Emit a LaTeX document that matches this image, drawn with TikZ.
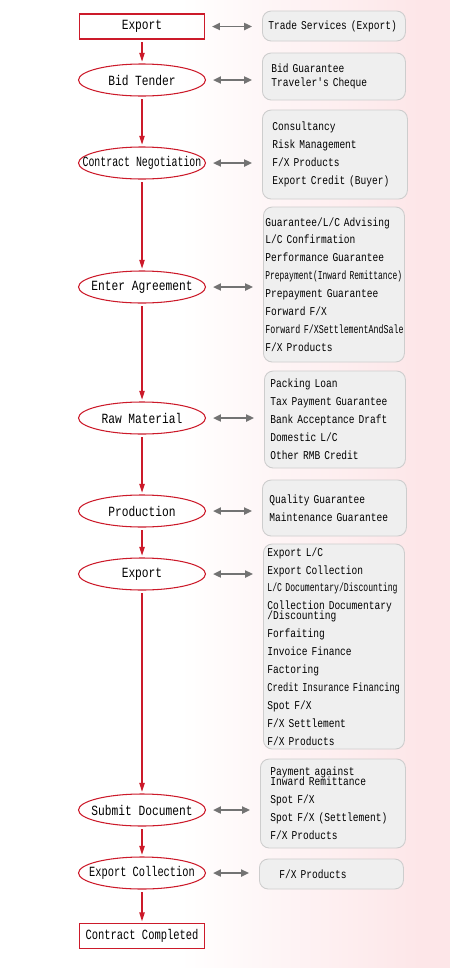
\documentclass[tikz,border=0pt]{standalone}
\usepackage{fontspec}
\usepackage{graphicx}
\usetikzlibrary{arrows.meta,shapes.geometric}
\newfontfamily\stepfont[FakeStretch=0.8]{Liberation Mono}
\definecolor{flowred}{RGB}{204,26,42}
\definecolor{boxgray}{RGB}{239,239,239}
\definecolor{boxedge}{RGB}{205,205,205}
\definecolor{linkgray}{RGB}{115,115,115}
\definecolor{bgpink}{RGB}{253,230,232}
\newcommand{\tight}[2]{\scalebox{#1}[1]{#2}}

\tikzset{
  stage/.style={draw=flowred,line width=0.6pt,ellipse,minimum width=2.54cm,minimum height=0.64cm,inner sep=0pt,font=\fontsize{8}{9}\stepfont,
    execute at begin node={\hbox to 0pt\bgroup\hss},execute at end node={\hss\egroup}},
  endstage/.style={draw=flowred,line width=0.6pt,rectangle,minimum width=2.5cm,minimum height=0.5cm,inner sep=0pt,font=\fontsize{8}{9}\stepfont},
  svc/.style={draw=boxedge,fill=boxgray,line width=0.5pt,rounded corners=5pt,anchor=west,align=left,inner ysep=0pt,font=\fontsize{6.8}{10.2}\stepfont},
  flow/.style={flowred,line width=0.8pt,-{Triangle[length=5pt,width=3pt]},shorten >=1pt,shorten <=1.5pt},
  link/.style={linkgray,line width=1.1pt,{Triangle[length=4.5pt,width=4pt]}-{Triangle[length=4.5pt,width=4pt]},shorten <=0.14cm,shorten >=0.2cm}
}

\begin{document}
\begin{tikzpicture}
\useasboundingbox (0,0) rectangle (9,-19.36);
% background
\fill[white] (0,0) rectangle (3.6,-19.36);
\shade[left color=white,right color=bgpink] (3.6,0) rectangle (8.4,-19.36);
\fill[bgpink] (8.4,0) rectangle (9,-19.36);

% stages
\node[endstage] (export) at (2.84,-0.53) {Export};
\node[stage] (tender) at (2.84,-1.60) {Bid Tender};
\node[stage] (negot) at (2.84,-3.26) {\tight{0.88}{Contract Negotiation}};
\node[stage] (agree) at (2.84,-5.74) {Enter Agreement};
\node[stage] (raw) at (2.84,-8.36) {Raw Material};
\node[stage] (prod) at (2.84,-10.22) {Production};
\node[stage] (shipout) at (2.84,-11.48) {Export};
\node[stage] (submit) at (2.84,-16.20) {Submit Document};
\node[stage] (collect) at (2.84,-17.46) {\tight{0.92}{Export Collection}};
\node[endstage] (done) at (2.84,-18.72) {\tight{0.93}{Contract Completed}};

% services
\node[svc,text width=2.62cm,inner xsep=0.12cm,minimum height=0.60cm] (trade) at (5.24,-0.52) {Trade Services (Export)};
\node[svc,text width=2.50cm,inner xsep=0.18cm,minimum height=0.94cm] (bid) at (5.24,-1.53) {Bid Guarantee\\[-2.3pt]Traveler's Cheque};
\node[svc,text width=2.50cm,inner xsep=0.20cm,minimum height=1.78cm] (consult) at (5.24,-3.09) {Consultancy\\Risk Management\\F/X Products\\Export Credit (Buyer)};
\node[svc,text width=2.74cm,inner xsep=0.04cm,minimum height=3.10cm] (advise) at (5.26,-5.69) {Guarantee/L/C Advising\\L/C Confirmation\\Performance Guarantee\\\tight{0.83}{Prepayment(Inward Remittance)}\\Prepayment Guarantee\\Forward F/X\\\tight{0.87}{Forward F/XSettlementAndSale}\\F/X Products};
\node[svc,text width=2.58cm,inner xsep=0.12cm,minimum height=1.94cm] (packing) at (5.28,-8.39) {Packing Loan\\Tax Payment Guarantee\\Bank Acceptance Draft\\Domestic L/C\\Other RMB Credit};
\node[svc,text width=2.60cm,inner xsep=0.14cm,minimum height=1.12cm] (quality) at (5.24,-10.16) {Quality Guarantee\\Maintenance Guarantee};
\node[svc,text width=2.66cm,inner xsep=0.08cm,minimum height=4.10cm] (finance) at (5.26,-12.93) {Export L/C\\Export Collection\\\tight{0.85}{L/C Documentary/Discounting}\\Collection Documentary\\[-4.5pt]/Discounting\\Forfaiting\\Invoice Finance\\Factoring\\\tight{0.91}{Credit Insurance Financing}\\Spot F/X\\F/X Settlement\\F/X Products};
\node[svc,text width=2.50cm,inner xsep=0.20cm,minimum height=1.78cm] (payment) at (5.20,-16.07) {Payment against\\[-4.5pt]Inward Remittance\\Spot F/X\\Spot F/X (Settlement)\\F/X Products};
\node[svc,text width=2.08cm,inner xsep=0.40cm,minimum height=0.60cm] (fxprod) at (5.18,-17.48) {F/X Products};

% main flow
\draw[flow] (export) -- (tender);
\draw[flow] (tender) -- (negot);
\draw[flow] (negot) -- (agree);
\draw[flow] (agree) -- (raw);
\draw[flow] (raw) -- (prod);
\draw[flow] (prod) -- (shipout);
\draw[flow] (shipout) -- (submit);
\draw[flow] (submit) -- (collect);
\draw[flow] (collect) -- (done);

% links to services
\draw[link] (export.east) -- (export.east -| trade.west);
\draw[link] (tender.east) -- (tender.east -| bid.west);
\draw[link] (negot.east) -- (negot.east -| consult.west);
\draw[link] (agree.east) -- (agree.east -| advise.west);
\draw[link] (raw.east) -- (raw.east -| packing.west);
\draw[link] (prod.east) -- (prod.east -| quality.west);
\draw[link] (shipout.east) -- (shipout.east -| finance.west);
\draw[link] (submit.east) -- (submit.east -| payment.west);
\draw[link] (collect.east) -- (collect.east -| fxprod.west);
\end{tikzpicture}
\end{document}
